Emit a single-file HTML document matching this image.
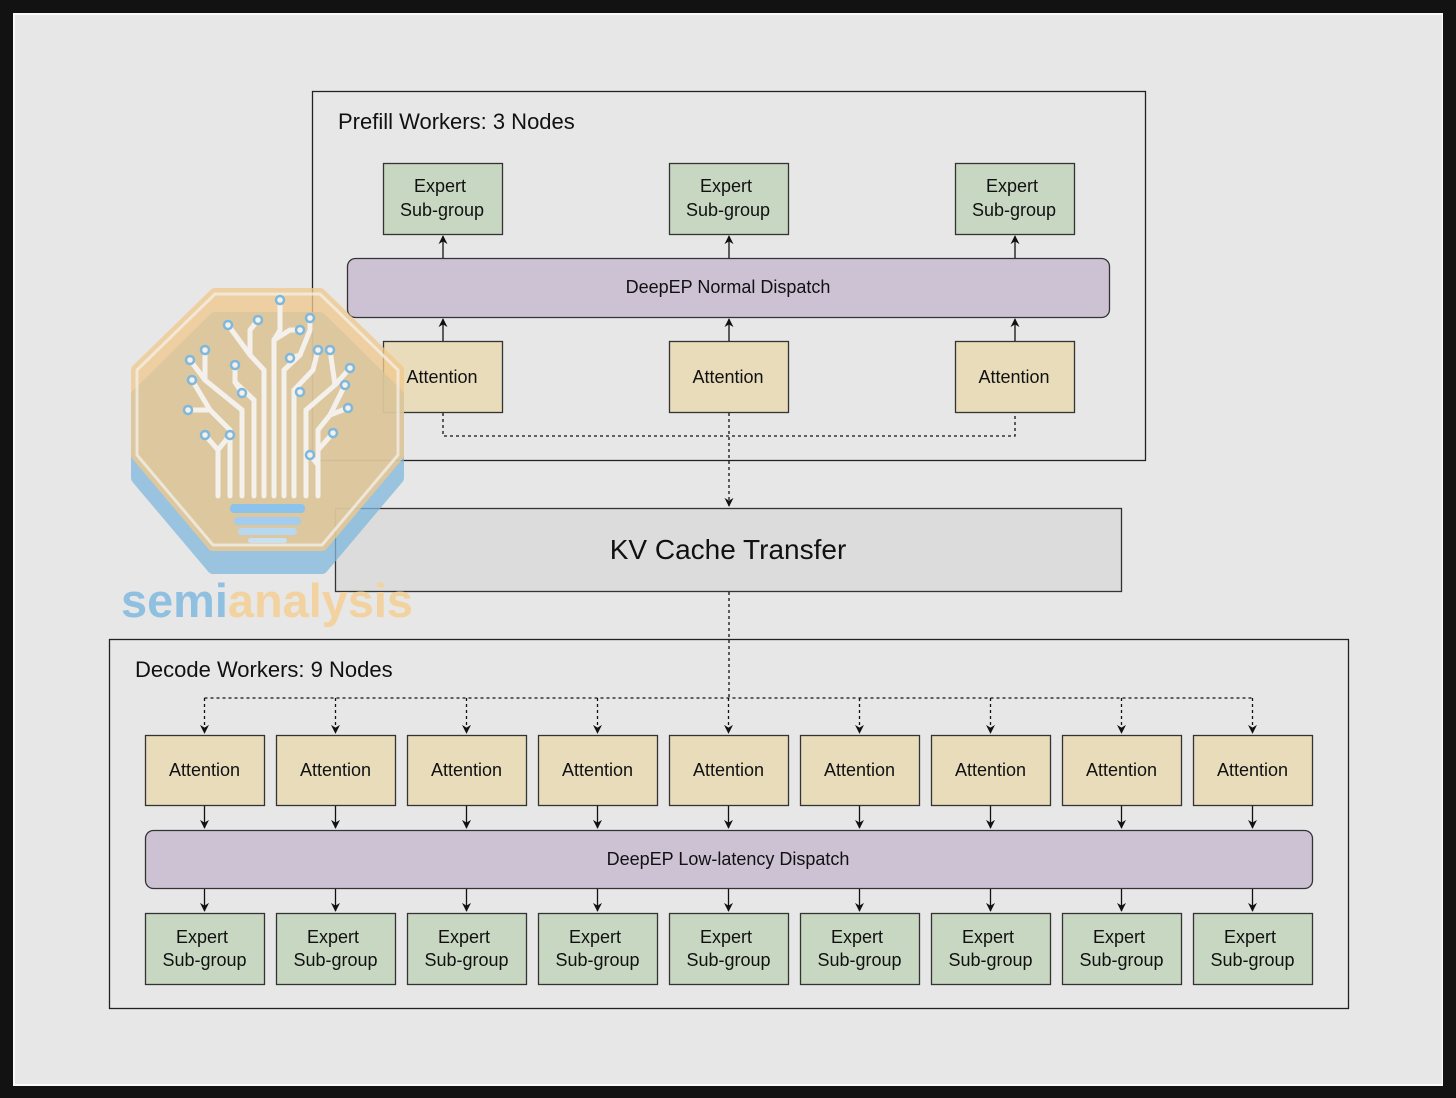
<!DOCTYPE html>
<html><head><meta charset="utf-8"><style>
html,body{margin:0;padding:0;background:#121212;}
svg{display:block;}
text{font-family:"Liberation Sans",Arial,sans-serif;fill:#111;}
</style></head><body>
<svg width="1456" height="1098" viewBox="0 0 1456 1098" xmlns="http://www.w3.org/2000/svg">
<defs>
<marker id="a" viewBox="0 0 10 10" refX="9" refY="5" markerWidth="9" markerHeight="9" markerUnits="userSpaceOnUse" orient="auto"><path d="M0,0 L10,5 L0,10 L3,5 z" fill="#111"/></marker>
</defs>
<rect x="0" y="0" width="1456" height="1098" fill="#121212"/>
<rect x="13" y="13" width="1430" height="1073" fill="#fafafa"/>
<rect x="15" y="15" width="1427" height="1069" fill="#e7e7e7"/>

<!-- Prefill -->
<rect x="312.5" y="91.5" width="833" height="369" fill="none" stroke="#222" stroke-width="1.3"/>
<text x="338" y="129" font-size="22">Prefill Workers: 3 Nodes</text>
<g stroke="#333" stroke-width="1.3">
<rect x="383.5" y="163.5" width="119" height="71" fill="#c8d7c2"/>
<rect x="669.5" y="163.5" width="119" height="71" fill="#c8d7c2"/>
<rect x="955.5" y="163.5" width="119" height="71" fill="#c8d7c2"/>
<rect x="347.5" y="258.5" width="762" height="59" rx="8" fill="#cdc2d4"/>
<rect x="383.5" y="341.5" width="119" height="71" fill="#e8dcbb"/>
<rect x="669.5" y="341.5" width="119" height="71" fill="#e8dcbb"/>
<rect x="955.5" y="341.5" width="119" height="71" fill="#e8dcbb"/>
</g>
<g font-size="18" text-anchor="middle">
<text x="440" y="192">Expert</text><text x="442" y="216">Sub-group</text>
<text x="726" y="192">Expert</text><text x="728" y="216">Sub-group</text>
<text x="1012" y="192">Expert</text><text x="1014" y="216">Sub-group</text>
<text x="728" y="293">DeepEP Normal Dispatch</text>
<text x="442" y="383">Attention</text><text x="728" y="383">Attention</text><text x="1014" y="383">Attention</text>
</g>
<g stroke="#111" stroke-width="1.3" marker-end="url(#a)">
<line x1="443" y1="258" x2="443" y2="236"/><line x1="729" y1="258" x2="729" y2="236"/><line x1="1015" y1="258" x2="1015" y2="236"/>
<line x1="443" y1="341" x2="443" y2="319"/><line x1="729" y1="341" x2="729" y2="319"/><line x1="1015" y1="341" x2="1015" y2="319"/>
</g>
<g stroke="#111" stroke-width="1.3" fill="none" stroke-dasharray="3,3">
<path d="M443,413 V436 H1015 V413"/>
<line x1="729" y1="413" x2="729" y2="506" marker-end="url(#a)"/>
</g>

<!-- KV -->
<rect x="335.5" y="508.5" width="786" height="83" fill="#dcdcdc" stroke="#333" stroke-width="1.3"/>
<text x="728" y="559" font-size="28" text-anchor="middle">KV Cache Transfer</text>

<!-- Decode -->
<rect x="109.5" y="639.5" width="1239" height="369" fill="none" stroke="#222" stroke-width="1.3"/>
<text x="135" y="677" font-size="22">Decode Workers: 9 Nodes</text>
<g stroke="#111" stroke-width="1.3" fill="none" stroke-dasharray="3,3">
<line x1="729" y1="592" x2="729" y2="698"/>
<line x1="204.5" y1="698" x2="1252.5" y2="698"/>
</g>
<g stroke="#111" stroke-width="1.3" stroke-dasharray="3,3" marker-end="url(#a)">
<line x1="204.5" y1="698" x2="204.5" y2="733"/><line x1="335.5" y1="698" x2="335.5" y2="733"/><line x1="466.5" y1="698" x2="466.5" y2="733"/><line x1="597.5" y1="698" x2="597.5" y2="733"/><line x1="728.5" y1="698" x2="728.5" y2="733"/><line x1="859.5" y1="698" x2="859.5" y2="733"/><line x1="990.5" y1="698" x2="990.5" y2="733"/><line x1="1121.5" y1="698" x2="1121.5" y2="733"/><line x1="1252.5" y1="698" x2="1252.5" y2="733"/>
</g>
<g stroke="#333" stroke-width="1.3" fill="#e8dcbb">
<rect x="145.5" y="735.5" width="119" height="70"/><rect x="276.5" y="735.5" width="119" height="70"/><rect x="407.5" y="735.5" width="119" height="70"/><rect x="538.5" y="735.5" width="119" height="70"/><rect x="669.5" y="735.5" width="119" height="70"/><rect x="800.5" y="735.5" width="119" height="70"/><rect x="931.5" y="735.5" width="119" height="70"/><rect x="1062.5" y="735.5" width="119" height="70"/><rect x="1193.5" y="735.5" width="119" height="70"/>
</g>
<rect x="145.5" y="830.5" width="1167" height="58" rx="8" fill="#cdc2d4" stroke="#333" stroke-width="1.3"/>
<g stroke="#333" stroke-width="1.3" fill="#c8d7c2">
<rect x="145.5" y="913.5" width="119" height="71"/><rect x="276.5" y="913.5" width="119" height="71"/><rect x="407.5" y="913.5" width="119" height="71"/><rect x="538.5" y="913.5" width="119" height="71"/><rect x="669.5" y="913.5" width="119" height="71"/><rect x="800.5" y="913.5" width="119" height="71"/><rect x="931.5" y="913.5" width="119" height="71"/><rect x="1062.5" y="913.5" width="119" height="71"/><rect x="1193.5" y="913.5" width="119" height="71"/>
</g>
<g stroke="#111" stroke-width="1.3" marker-end="url(#a)">
<line x1="204.5" y1="806" x2="204.5" y2="828"/><line x1="335.5" y1="806" x2="335.5" y2="828"/><line x1="466.5" y1="806" x2="466.5" y2="828"/><line x1="597.5" y1="806" x2="597.5" y2="828"/><line x1="728.5" y1="806" x2="728.5" y2="828"/><line x1="859.5" y1="806" x2="859.5" y2="828"/><line x1="990.5" y1="806" x2="990.5" y2="828"/><line x1="1121.5" y1="806" x2="1121.5" y2="828"/><line x1="1252.5" y1="806" x2="1252.5" y2="828"/>
<line x1="204.5" y1="889" x2="204.5" y2="911"/><line x1="335.5" y1="889" x2="335.5" y2="911"/><line x1="466.5" y1="889" x2="466.5" y2="911"/><line x1="597.5" y1="889" x2="597.5" y2="911"/><line x1="728.5" y1="889" x2="728.5" y2="911"/><line x1="859.5" y1="889" x2="859.5" y2="911"/><line x1="990.5" y1="889" x2="990.5" y2="911"/><line x1="1121.5" y1="889" x2="1121.5" y2="911"/><line x1="1252.5" y1="889" x2="1252.5" y2="911"/>
</g>
<g font-size="18" text-anchor="middle">
<text x="204.5" y="776">Attention</text><text x="335.5" y="776">Attention</text><text x="466.5" y="776">Attention</text><text x="597.5" y="776">Attention</text><text x="728.5" y="776">Attention</text><text x="859.5" y="776">Attention</text><text x="990.5" y="776">Attention</text><text x="1121.5" y="776">Attention</text><text x="1252.5" y="776">Attention</text>
<text x="728" y="865">DeepEP Low-latency Dispatch</text>
<text x="202" y="943">Expert</text><text x="333" y="943">Expert</text><text x="464" y="943">Expert</text><text x="595" y="943">Expert</text><text x="726" y="943">Expert</text><text x="857" y="943">Expert</text><text x="988" y="943">Expert</text><text x="1119" y="943">Expert</text><text x="1250" y="943">Expert</text>
<text x="204.5" y="966">Sub-group</text><text x="335.5" y="966">Sub-group</text><text x="466.5" y="966">Sub-group</text><text x="597.5" y="966">Sub-group</text><text x="728.5" y="966">Sub-group</text><text x="859.5" y="966">Sub-group</text><text x="990.5" y="966">Sub-group</text><text x="1121.5" y="966">Sub-group</text><text x="1252.5" y="966">Sub-group</text>
</g>

<!-- Logo watermark -->
<g>
<path d="M215,318 L320,318 L398,395 L398,478 L322,568 L213,568 L137,478 L137,395 Z" fill="#7fb8dd" opacity="0.75" stroke-linejoin="round" stroke="#7fb8dd" stroke-width="12"/>
<path d="M215,294 L320,294 L398,370 L398,455 L322,545 L213,545 L137,455 L137,370 Z" fill="#f0c98e" opacity="0.78" stroke="#f0c98e" stroke-width="12" stroke-linejoin="round"/>
<path d="M215,294 L320,294 L398,370 L398,455 L322,545 L213,545 L137,455 L137,370 Z" fill="none" stroke="#f3ede3" stroke-width="3" stroke-linejoin="round" opacity="0.8"/>
<g stroke="#f4f1ec" stroke-width="5" fill="none" stroke-linecap="round">
<path d="M218,496 V450 L205,435"/><path d="M218,450 L230,435"/>
<path d="M230,496 V430 L210,410 L188,410"/><path d="M210,410 L192,380"/>
<path d="M242,496 V410 L205,380 L190,360"/><path d="M205,380 L205,350"/>
<path d="M254,496 V400 L235,382 L235,365"/><path d="M235,382 L242,393"/>
<path d="M264,496 V370 L250,355 L250,330 L258,320"/><path d="M250,355 L228,325"/>
<path d="M274,496 V340 L280,330 L280,300"/><path d="M274,340 L290,330 L300,330"/>
<path d="M284,496 V370 L300,355 L310,330 L310,318"/><path d="M300,355 L290,358"/>
<path d="M294,496 V390 L313,370 L318,350"/><path d="M294,390 L300,392"/>
<path d="M306,496 V410 L335,385 L350,368"/><path d="M335,385 L330,350"/>
<path d="M318,496 V430 L330,415 L348,408"/><path d="M330,415 L345,385"/>
<path d="M318,450 L333,433"/><path d="M318,465 L310,455"/>
</g>
<g fill="#f4f1ec" stroke="#7fb8dd" stroke-width="2.5">
<circle cx="205" cy="435" r="4"/><circle cx="230" cy="435" r="4"/><circle cx="188" cy="410" r="4"/><circle cx="192" cy="380" r="4"/><circle cx="190" cy="360" r="4"/><circle cx="205" cy="350" r="4"/><circle cx="235" cy="365" r="4"/><circle cx="242" cy="393" r="4"/><circle cx="258" cy="320" r="4"/><circle cx="228" cy="325" r="4"/><circle cx="280" cy="300" r="4"/><circle cx="300" cy="330" r="4"/><circle cx="310" cy="318" r="4"/><circle cx="290" cy="358" r="4"/><circle cx="318" cy="350" r="4"/><circle cx="300" cy="392" r="4"/><circle cx="350" cy="368" r="4"/><circle cx="330" cy="350" r="4"/><circle cx="348" cy="408" r="4"/><circle cx="345" cy="385" r="4"/><circle cx="333" cy="433" r="4"/><circle cx="310" cy="455" r="4"/>
</g>
<rect x="230" y="504" width="75" height="9" rx="4" fill="#8cc3ec"/>
<rect x="234" y="517" width="67" height="8" rx="4" fill="#a2cdee"/>
<rect x="238" y="528" width="59" height="7" rx="3.5" fill="#b8d8f0"/>
<rect x="248" y="538" width="39" height="5" rx="2.5" fill="#c8e0f2"/>
<text x="121" y="617" font-size="47" font-weight="bold" textLength="292" lengthAdjust="spacingAndGlyphs"><tspan fill="#8fc0e0">semi</tspan><tspan fill="#f2d29e">analysis</tspan></text>
</g>
</svg>
</body></html>
